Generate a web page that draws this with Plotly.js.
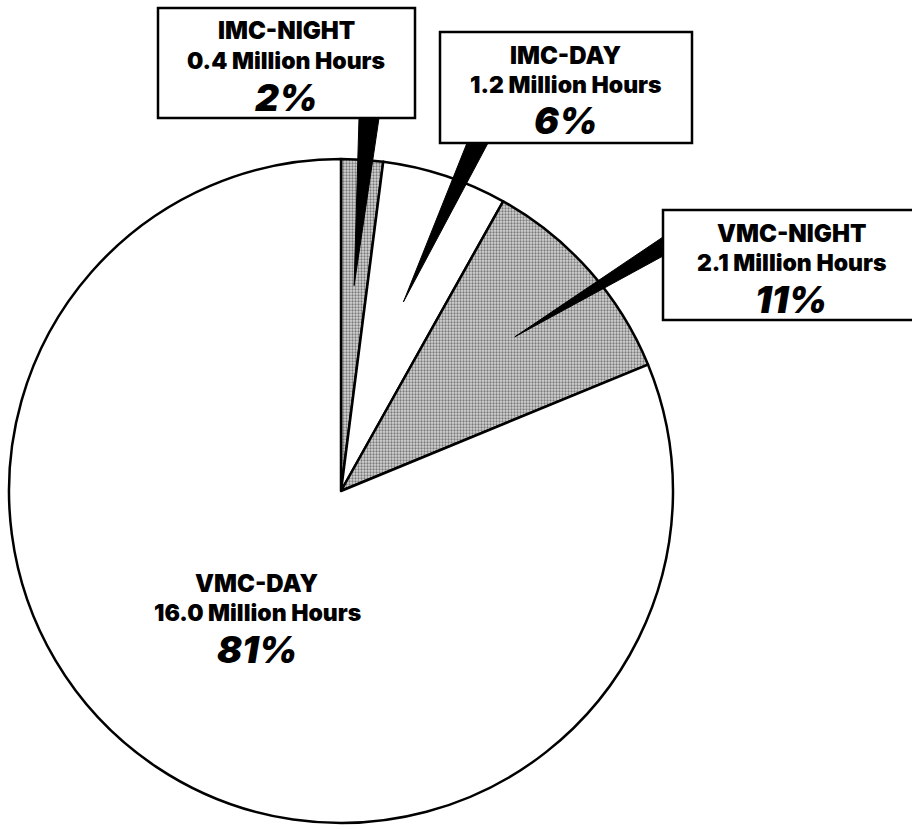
<!DOCTYPE html>
<html>
<head>
<meta charset="utf-8">
<script src="https://cdn.plot.ly/plotly-3.0.1.min.js"></script>
<style>html,body{margin:0;padding:0;background:#fff;}#chart{width:912px;height:829px;}</style>
</head>
<body>
<div id="chart"></div>
<script>
// ---- data ----
const categories = ['IMC-NIGHT', 'IMC-DAY', 'VMC-NIGHT', 'VMC-DAY'];
const hours = [0.4, 1.2, 2.1, 16.0];          // million hours
const hourLabels = ['0.4', '1.2', '2.1', '16.0'];
const percentLabels = ['2%', '6%', '11%', '81%'];
const sliceColors = ['#c4c4c4', '#ffffff', '#c4c4c4', '#ffffff'];
const slicePatterns = ['.', '', '.', ''];

// ---- layout (pixels) ----
const W = 912, H = 829;
const CX = 341, CY = 491, R = 332;
const px = x => x / W;
const py = y => 1 - y / H;

// label boxes [left, top, right, bottom] ; null = inside pie
const boxes = [
  [158, 8, 415, 118],
  [440, 32, 692, 143],
  [663, 210, 916, 320],
  null
];
const textCenters = [
  [286, 8], [566, 32], [791, 210], [257, 560]
];
// pointer bases (two points on box edge) and tip depth (fraction of radius)
const pointerBases = [
  [[359, 118], [379, 118]],
  [[467, 143], [488, 143]],
  [[663, 237], [663, 256]],
  null
];
const tipDepth = [0.62, 0.6, 0.7, 0];

const total = hours.reduce((a, b) => a + b, 0);
let cum = 0;
const midAngles = hours.map(v => { const m = (cum + v / 2) / total * 2 * Math.PI; cum += v; return m; });

const shapes = [];
const annotations = [];
const fontFam = 'Inter, Liberation Sans, Arial, sans-serif';

categories.forEach((c, i) => {
  if (pointerBases[i]) {
    const a = midAngles[i];
    const tx = CX + R * tipDepth[i] * Math.sin(a);
    const ty = CY - R * tipDepth[i] * Math.cos(a);
    const [b1, b2] = pointerBases[i];
    shapes.push({
      type: 'path', xref: 'paper', yref: 'paper',
      path: `M ${px(b1[0])} ${py(b1[1])} L ${px(b2[0])} ${py(b2[1])} L ${px(tx)} ${py(ty)} Z`,
      fillcolor: '#000', line: {color: '#000', width: 1}
    });
  }
});
categories.forEach((c, i) => {
  if (boxes[i]) {
    const b = boxes[i];
    shapes.push({
      type: 'rect', xref: 'paper', yref: 'paper',
      x0: px(b[0]), x1: px(b[2]), y0: py(b[3]), y1: py(b[1]),
      fillcolor: '#fff', line: {color: '#000', width: 2.5}
    });
  }
  const [tx, ty] = textCenters[i];
  const lines = [
    {t: c, dy: 23, size: 24, style: 'normal'},
    {t: hourLabels[i] + ' Million Hours', dy: 53, size: 23, style: 'normal'},
    {t: percentLabels[i], dy: 89, size: 37, style: 'italic'}
  ];
  lines.forEach(l => {
    annotations.push({
      xref: 'paper', yref: 'paper', x: px(tx), y: py(ty + l.dy),
      xanchor: 'center', yanchor: 'middle', showarrow: false,
      text: l.t,
      font: {family: fontFam, size: l.size, color: '#000', weight: 900, style: l.style}
    });
  });
});

const trace = {
  type: 'pie',
  labels: categories,
  values: hours,
  sort: false,
  direction: 'clockwise',
  rotation: 0,
  textinfo: 'none',
  hoverinfo: 'label+value+percent',
  marker: {
    colors: sliceColors,
    line: {color: '#000', width: 2.5},
    pattern: {shape: slicePatterns, fgcolor: '#7a7a7a', bgcolor: '#d6d6d6', size: 3, solidity: 0.45}
  },
  domain: {x: [px(CX - R), px(CX + R)], y: [py(CY + R), py(CY - R)]},
  showlegend: false
};

const layout = {
  width: W, height: H,
  margin: {l: 0, r: 0, t: 0, b: 0},
  paper_bgcolor: '#fff', plot_bgcolor: '#fff',
  showlegend: false,
  shapes: shapes,
  annotations: annotations
};

Plotly.newPlot('chart', [trace], layout, {displayModeBar: false, staticPlot: true});
</script>
</body>
</html>
